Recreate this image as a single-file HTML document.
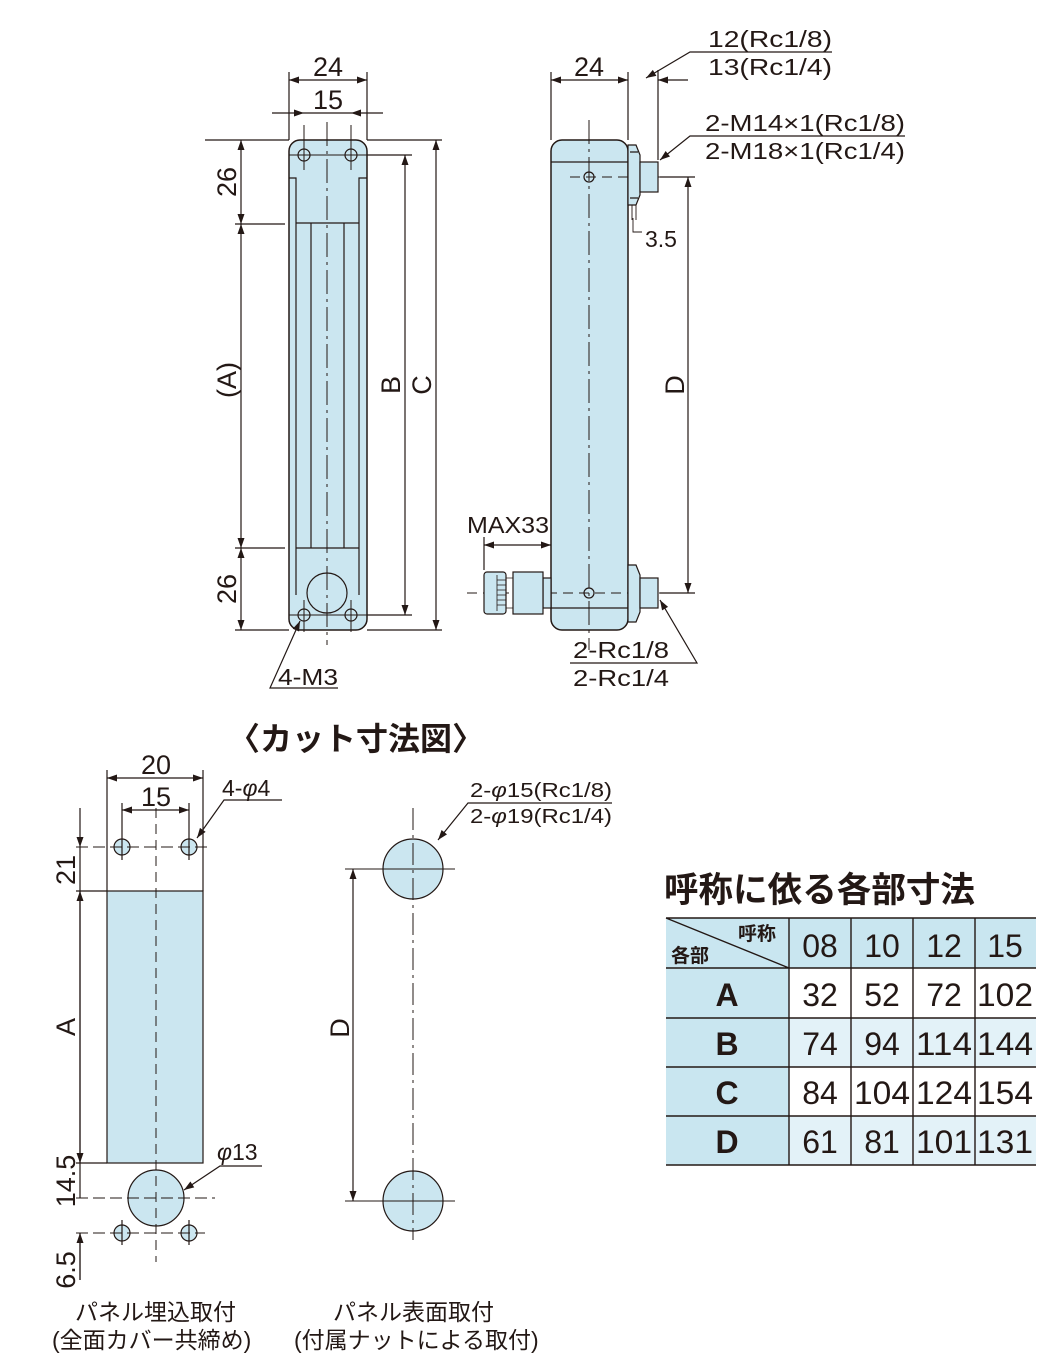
<!DOCTYPE html>
<html><head><meta charset="utf-8"><style>
html,body{margin:0;padding:0;background:#fff;}
svg{display:block;}
text{font-family:"Liberation Sans","Noto Sans CJK JP",sans-serif;fill:#231815;}
</style></head><body>
<svg width="1056" height="1370" viewBox="0 0 1056 1370" xmlns="http://www.w3.org/2000/svg">
<defs>
<marker id="a" viewBox="0 0 10 10" refX="10" refY="5" markerWidth="14" markerHeight="10" markerUnits="userSpaceOnUse" orient="auto-start-reverse"><path d="M0,1.5L10,5L0,8.5z" fill="#231815"/></marker>
</defs>
<g stroke="#231815" stroke-width="1.2" fill="none">
<rect x="289" y="140" width="78" height="490" rx="11" fill="#cbe6f0" stroke-width="1.5"/>
<path d="M289,178H296V595M367,178H359V595M296,223H359M311,223V548M344,223V548M296,548H359"/>
<circle cx="327" cy="593" r="20"/>
<circle cx="304" cy="155" r="6"/><circle cx="351" cy="155" r="6"/>
<circle cx="304" cy="615" r="6"/><circle cx="351" cy="615" r="6"/>
<path d="M289,155H367M289,615H367M304,125V170M351,125V170M304,600V632M351,600V632" stroke-width="1"/>
<path d="M327,122V645" stroke-dasharray="24,5,3,5" stroke-width="1"/>
<path d="M289,140V72M367,140V72"/>
<path d="M289,80H367" marker-start="url(#a)" marker-end="url(#a)"/>
<path d="M272,113H304" marker-end="url(#a)"/><path d="M383,113H351" marker-end="url(#a)"/>
<path d="M304,113H351"/>
<path d="M205,140H289M235,224H285M235,548H285M235,630H289"/>
<path d="M241,140V224" marker-start="url(#a)" marker-end="url(#a)"/>
<path d="M241,224V548" marker-start="url(#a)" marker-end="url(#a)"/>
<path d="M241,548V630" marker-start="url(#a)" marker-end="url(#a)"/>
<path d="M367,155H412M367,630H442M367,140H442M367,615H412"/>
<path d="M405,155V615" marker-start="url(#a)" marker-end="url(#a)"/>
<path d="M436,140V630" marker-start="url(#a)" marker-end="url(#a)"/>
<path d="M338,688H270L300,621" marker-end="url(#a)"/>

<rect x="551" y="140" width="77" height="490" rx="11" fill="#cbe6f0" stroke-width="1.5"/>
<path d="M551,162H628M551,608H628"/>
<path d="M589,120V650" stroke-dasharray="24,5,3,5" stroke-width="1"/>
<circle cx="589" cy="177" r="5"/><circle cx="589" cy="593" r="5"/>
<path d="M570,177H695M467,593H695" stroke-dasharray="10,6" stroke-width="1"/>
<path d="M628,145H636L640,155V195L636,205H628Z" fill="#cbe6f0"/>
<path d="M630,152H638M630,198H638"/>
<rect x="640" y="162" width="18" height="30" fill="#cbe6f0"/>
<path d="M628,565H636L640,575V612L636,622H628Z" fill="#cbe6f0"/>
<rect x="640" y="578" width="18" height="30" fill="#cbe6f0"/>
<rect x="543" y="578" width="8" height="30" fill="#cbe6f0"/>
<rect x="513" y="572" width="30" height="42" fill="#cbe6f0"/>
<rect x="484" y="572" width="22" height="42" rx="3" fill="#cbe6f0"/>
<path d="M497,575V611M506,575V611M497,580H506M497,585H506M497,590H506M497,595H506M497,600H506M497,605H506M506,578H513M506,608H513" stroke-width="0.8"/>
<path d="M551,140V72M628,140V72M658,160V70M484,537V570"/>
<path d="M551,80H628" marker-start="url(#a)" marker-end="url(#a)"/>
<path d="M688,80H658" marker-end="url(#a)"/>
<path d="M832,52H690L646,78" marker-end="url(#a)"/>
<path d="M905,136H690L660,160" marker-end="url(#a)"/>
<path d="M660,177H695M660,593H695"/>
<path d="M688,177V593" marker-start="url(#a)" marker-end="url(#a)"/>
<path d="M484,545H551" marker-start="url(#a)" marker-end="url(#a)"/>
<path d="M632,205V220M636,205V220M633,218V232H642" stroke-width="0.9"/>
<path d="M570,663H697L660,600" marker-end="url(#a)"/>

<rect x="107" y="891" width="96" height="272" fill="#cbe6f0"/>
<circle cx="156" cy="1198" r="28" fill="#cbe6f0"/>
<circle cx="122" cy="847" r="8" fill="#cbe6f0"/><circle cx="189" cy="847" r="8" fill="#cbe6f0"/>
<circle cx="122" cy="1233" r="8" fill="#cbe6f0"/><circle cx="189" cy="1233" r="8" fill="#cbe6f0"/>
<path d="M156,808V1262" stroke-dasharray="10,6" stroke-width="1"/>
<path d="M76,847H210M76,1198H215M76,1233H205" stroke-dasharray="12,5" stroke-width="1"/>
<path d="M122,803V860M189,803V860M122,1220V1245M189,1220V1245M107,770V891M203,770V891M76,891H107M76,1163H107"/>
<path d="M107,778H203" marker-start="url(#a)" marker-end="url(#a)"/>
<path d="M122,810H189" marker-start="url(#a)" marker-end="url(#a)"/>
<path d="M80,808V847" marker-end="url(#a)"/>
<path d="M80,847V891M80,891V1163" marker-end="url(#a)"/>
<path d="M80,1163V891" marker-end="url(#a)"/>
<path d="M80,1163V1198M80,1233V1280"/>
<path d="M80,1280V1233" marker-end="url(#a)"/>
<path d="M282,800H224L197,838" marker-end="url(#a)"/>
<path d="M262,1166H220L184,1190" marker-end="url(#a)"/>

<circle cx="413" cy="869" r="30" fill="#cbe6f0"/>
<circle cx="413" cy="1201" r="30" fill="#cbe6f0"/>
<path d="M413,808V1240" stroke-dasharray="22,5,3,5" stroke-width="1"/>
<path d="M345,869H455M345,1201H455" stroke-width="1"/>
<path d="M353,869V1201" marker-start="url(#a)" marker-end="url(#a)"/>
<path d="M612,803H468L438,840" marker-end="url(#a)"/>

<rect x="666" y="918" width="370" height="50" fill="#c9e6f0" stroke="none"/>
<rect x="666" y="968" width="123" height="197" fill="#c9e6f0" stroke="none"/>
<rect x="789" y="1018" width="247" height="49" fill="#e3f2f8" stroke="none"/>
<rect x="789" y="1116" width="247" height="49" fill="#e3f2f8" stroke="none"/>
<path d="M666,918H1036M666,968H1036M666,1018H1036M666,1067H1036M666,1116H1036M666,1165H1036M789,918V1165M851,918V1165M913,918V1165M975,918V1165M666,918L789,968" stroke-width="1.4"/>
</g>

<g font-size="27">
<text x="328" y="76" text-anchor="middle">24</text>
<text x="328" y="109" text-anchor="middle">15</text>
<text x="589" y="76" text-anchor="middle">24</text>
<text transform="translate(236,182) rotate(-90)" text-anchor="middle">26</text>
<text transform="translate(236,380) rotate(-90)" text-anchor="middle">(A)</text>
<text transform="translate(236,589) rotate(-90)" text-anchor="middle">26</text>
<text transform="translate(400,385) rotate(-90)" text-anchor="middle">B</text>
<text transform="translate(431,385) rotate(-90)" text-anchor="middle">C</text>
<text transform="translate(684,385) rotate(-90)" text-anchor="middle">D</text>
<text x="156" y="774" text-anchor="middle">20</text>
<text x="156" y="806" text-anchor="middle">15</text>
<text transform="translate(75,870) rotate(-90)" text-anchor="middle">21</text>
<text transform="translate(75,1027) rotate(-90)" text-anchor="middle">A</text>
<text transform="translate(75,1181) rotate(-90)" text-anchor="middle">14.5</text>
<text transform="translate(75,1270) rotate(-90)" text-anchor="middle">6.5</text>
<text transform="translate(349,1028) rotate(-90)" text-anchor="middle">D</text>
</g>
<g font-size="23">
<text x="708" y="47" textLength="124" lengthAdjust="spacingAndGlyphs">12(Rc1/8)</text>
<text x="708" y="75" textLength="124" lengthAdjust="spacingAndGlyphs">13(Rc1/4)</text>
<text x="705" y="131" textLength="200" lengthAdjust="spacingAndGlyphs">2-M14×1(Rc1/8)</text>
<text x="705" y="159" textLength="200" lengthAdjust="spacingAndGlyphs">2-M18×1(Rc1/4)</text>
<text x="645" y="247">3.5</text>
<text x="467" y="533" textLength="82" lengthAdjust="spacingAndGlyphs">MAX33</text>
<text x="573" y="658" textLength="96" lengthAdjust="spacingAndGlyphs">2-Rc1/8</text>
<text x="573" y="686" textLength="96" lengthAdjust="spacingAndGlyphs">2-Rc1/4</text>
<text x="278" y="685" textLength="60" lengthAdjust="spacingAndGlyphs">4-M3</text>
<text x="222" y="796">4-<tspan font-style="italic">φ</tspan>4</text>
<text x="217" y="1160"><tspan font-style="italic">φ</tspan>13</text>
</g>
<g font-size="20">
<text x="470" y="797" textLength="142" lengthAdjust="spacingAndGlyphs">2-<tspan font-style="italic">φ</tspan>15(Rc1/8)</text>
<text x="470" y="823" textLength="142" lengthAdjust="spacingAndGlyphs">2-<tspan font-style="italic">φ</tspan>19(Rc1/4)</text>
</g>
<g font-size="23">
<text x="75" y="1320">パネル埋込取付</text>
<text x="52" y="1348">(全面カバー共締め)</text>
<text x="333" y="1320">パネル表面取付</text>
<text x="294" y="1348">(付属ナットによる取付)</text>
</g>
<text x="228" y="750" font-size="32" font-weight="bold">〈カット寸法図〉</text>
<text x="664" y="902" font-size="35" font-weight="bold" textLength="311" lengthAdjust="spacingAndGlyphs">呼称に依る各部寸法</text>
<g font-size="19" font-weight="bold">
<text x="738" y="940">呼称</text>
<text x="671" y="962">各部</text>
</g>
<g font-size="32" text-anchor="middle">
<text x="820" y="957">08</text><text x="882" y="957">10</text><text x="944" y="957">12</text><text x="1005" y="957">15</text>
<text x="727" y="1006" font-weight="bold">A</text>
<text x="727" y="1055" font-weight="bold">B</text>
<text x="727" y="1104" font-weight="bold">C</text>
<text x="727" y="1153" font-weight="bold">D</text>
<text x="820" y="1006">32</text><text x="882" y="1006">52</text><text x="944" y="1006">72</text><text x="1005" y="1006" textLength="56" lengthAdjust="spacingAndGlyphs">102</text>
<text x="820" y="1055">74</text><text x="882" y="1055">94</text><text x="944" y="1055" textLength="56" lengthAdjust="spacingAndGlyphs">114</text><text x="1005" y="1055" textLength="56" lengthAdjust="spacingAndGlyphs">144</text>
<text x="820" y="1104">84</text><text x="882" y="1104" textLength="56" lengthAdjust="spacingAndGlyphs">104</text><text x="944" y="1104" textLength="56" lengthAdjust="spacingAndGlyphs">124</text><text x="1005" y="1104" textLength="56" lengthAdjust="spacingAndGlyphs">154</text>
<text x="820" y="1153">61</text><text x="882" y="1153">81</text><text x="944" y="1153" textLength="56" lengthAdjust="spacingAndGlyphs">101</text><text x="1005" y="1153" textLength="56" lengthAdjust="spacingAndGlyphs">131</text>
</g>
</svg>
</body></html>
